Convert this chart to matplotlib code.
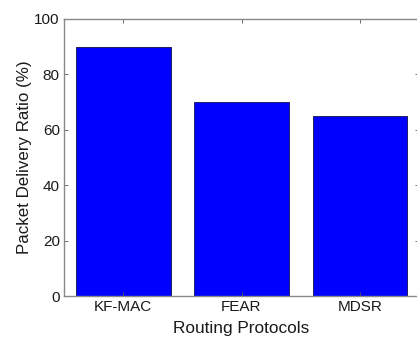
import matplotlib
matplotlib.use("Agg")
import matplotlib.pyplot as plt

categories = ["KF-MAC", "FEAR", "MDSR"]
values = [90, 70, 65]
yticks = [0, 20, 40, 60, 80, 100]

plt.rcParams['font.family'] = ['Liberation Sans', 'DejaVu Sans']

fig = plt.figure(figsize=(4.17, 3.41), dpi=100)
W, H = 417, 341
ax = fig.add_axes([64 / W, 1 - 296 / H, (419 - 64) / W, (296 - 19) / H])

x = list(range(1, len(categories) + 1))
ax.bar(x, values, width=0.8, color='#0000ff', edgecolor='#10104a', linewidth=0.6)
ax.set_xlim(0.5, 3.5)
ax.set_ylim(0, 100)
ax.set_xticks(x)
ax.set_xticklabels(categories, fontsize=11, color='#1a1a1a')
ax.set_yticks(yticks)
ax.set_yticklabels([str(v) for v in yticks], fontsize=11, color='#1a1a1a')
ax.tick_params(direction='in', length=3, width=0.6, color='#555555', top=True, right=True, pad=3)
for s in ax.spines.values():
    s.set_color('#888888')
    s.set_linewidth(1.0)
ax.set_xlabel("Routing Protocols", fontsize=12.4, labelpad=5, color='#1a1a1a')
ax.set_ylabel("Packet Delivery Ratio (%)", fontsize=12.2, labelpad=2, color='#1a1a1a')

fig.savefig("out.png", dpi=100)
